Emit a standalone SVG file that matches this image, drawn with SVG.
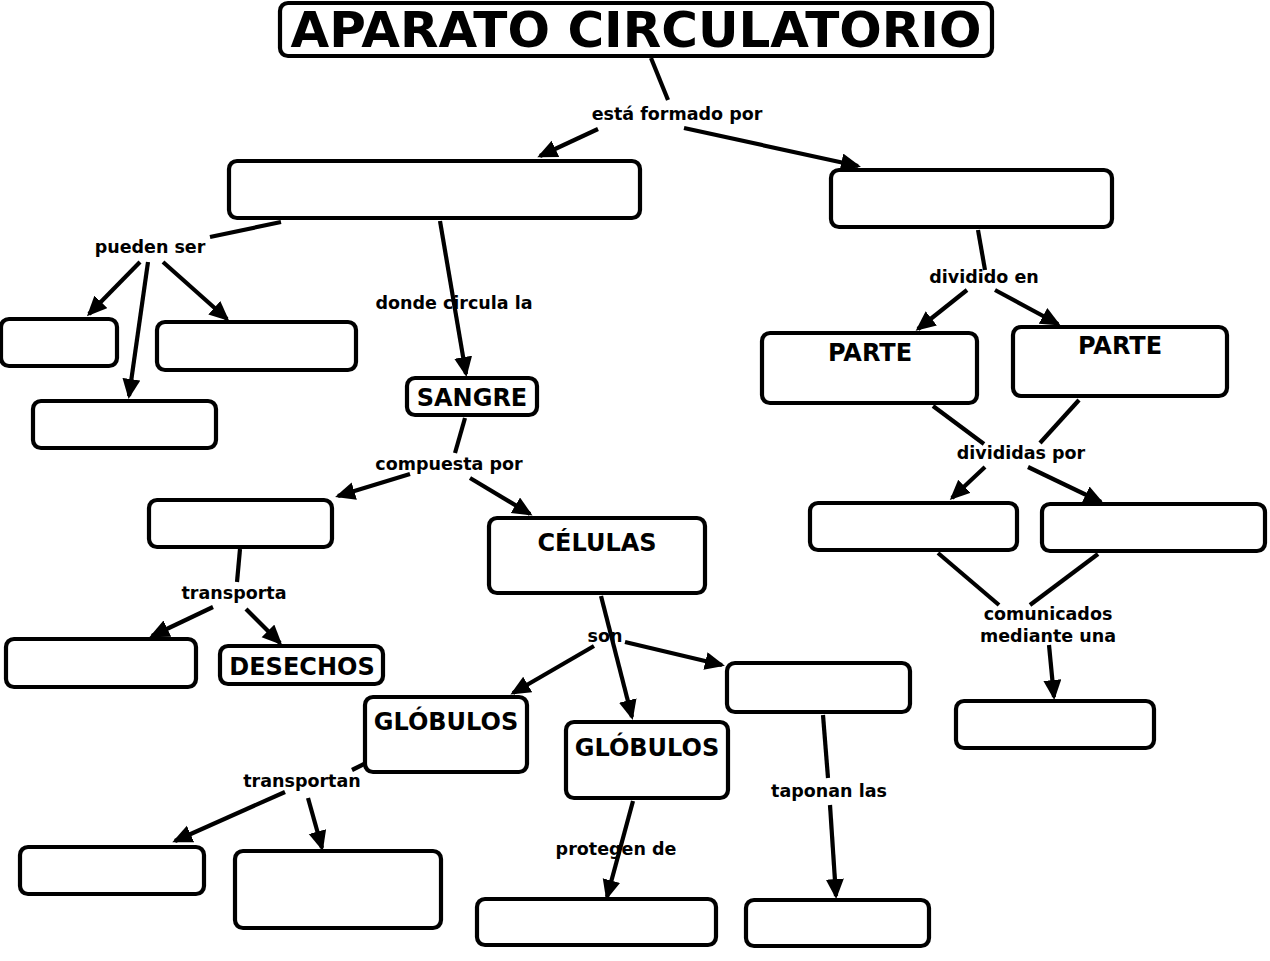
<svg xmlns="http://www.w3.org/2000/svg" width="1270" height="961" viewBox="0 0 1270 961">
<style>
.box{fill:#fff;stroke:#000;stroke-width:4.2}
.nt{font-family:"DejaVu Sans",Verdana,sans-serif;font-weight:bold;font-size:24px;text-anchor:middle;fill:#000}
.lt{font-family:"DejaVu Sans",Verdana,sans-serif;font-weight:bold;font-size:17.5px;text-anchor:middle;fill:#000}
.c{fill:none;stroke:#000;stroke-width:4.2}
.a{marker-end:url(#ah)}
</style>
<defs>
<marker id="ah" markerUnits="userSpaceOnUse" markerWidth="22" markerHeight="20" refX="17" refY="9" orient="auto" viewBox="0 0 22 20">
<path d="M0,0 L20,9 L0,18 z" fill="#000"/>
</marker>
</defs>
<rect width="1270" height="961" fill="#fff"/>
<g id="connectors">
<path class="c" d="M651,58 L668,100"/>
<path class="c a" d="M598,129 L540,156"/>
<path class="c a" d="M684,128 L858,166"/>
<path class="c" d="M281,222 L210,237"/>
<path class="c a" d="M140,262 L89,314"/>
<path class="c a" d="M148,262 L129,396"/>
<path class="c a" d="M163,262 L227,319"/>
<path class="c a" d="M440,221 L466,374"/>
<path class="c" d="M465,418 L455,453"/>
<path class="c a" d="M410,474 L338,496"/>
<path class="c a" d="M470,478 L530,514"/>
<path class="c" d="M240,549 L237,582"/>
<path class="c a" d="M213,607 L152,636"/>
<path class="c a" d="M246,609 L280,643"/>
<path class="c a" d="M601,596 L632,717"/>
<path class="c a" d="M594,646 L513,693"/>
<path class="c a" d="M625,642 L722,665"/>
<path class="c" d="M366,763 L352,770"/>
<path class="c a" d="M285,792 L175,841"/>
<path class="c a" d="M308,798 L322,848"/>
<path class="c a" d="M633,801 L607,897"/>
<path class="c" d="M823,715 L828,778"/>
<path class="c a" d="M830,805 L836,896"/>
<path class="c" d="M978,230 L985,270"/>
<path class="c a" d="M967,290 L918,329"/>
<path class="c a" d="M995,290 L1058,324"/>
<path class="c" d="M933,406 L984,444"/>
<path class="c" d="M1079,400 L1040,443"/>
<path class="c a" d="M985,467 L952,498"/>
<path class="c a" d="M1028,467 L1101,502"/>
<path class="c" d="M938,553 L999,605"/>
<path class="c" d="M1098,554 L1030,605"/>
<path class="c a" d="M1049,645 L1054,697"/>
</g>
<g id="link-labels">
<text class="lt" x="677" y="120">está formado por</text>
<text class="lt" x="150" y="253">pueden ser</text>
<text class="lt" x="454" y="309">donde circula la</text>
<text class="lt" x="449" y="470">compuesta por</text>
<text class="lt" x="234" y="599">transporta</text>
<text class="lt" x="605" y="642">son</text>
<text class="lt" x="302" y="787">transportan</text>
<text class="lt" x="616" y="855">protegen de</text>
<text class="lt" x="829" y="797">taponan las</text>
<text class="lt" x="984" y="283">dividido en</text>
<text class="lt" x="1021" y="459">divididas por</text>
<text class="lt" x="1048" y="620">comunicados</text>
<text class="lt" x="1048" y="642">mediante una</text>
</g>
<g id="title"><rect class="box" x="280" y="3" width="712" height="53" rx="8"/><text x="636" y="47" font-family="DejaVu Sans,Verdana,sans-serif" font-weight="bold" font-size="50" text-anchor="middle">APARATO CIRCULATORIO</text></g>
<g id="nodeA"><rect class="box" x="229" y="161" width="411" height="57" rx="8"/></g>
<g id="nodeB"><rect class="box" x="831" y="170" width="281" height="57" rx="8"/></g>
<g id="n1"><rect class="box" x="1" y="319" width="116" height="47" rx="8"/></g>
<g id="n2"><rect class="box" x="157" y="322" width="199" height="48" rx="8"/></g>
<g id="n3"><rect class="box" x="33" y="401" width="183" height="47" rx="8"/></g>
<g id="sangre"><rect class="box" x="407" y="378" width="130" height="37" rx="8"/><text class="nt" x="472" y="406">SANGRE</text></g>
<g id="nodeC"><rect class="box" x="149" y="500" width="183" height="47" rx="8"/></g>
<g id="celulas"><rect class="box" x="489" y="518" width="216" height="75" rx="8"/><text class="nt" x="597" y="551">CÉLULAS</text></g>
<g id="nodeD"><rect class="box" x="6" y="639" width="190" height="48" rx="8"/></g>
<g id="desechos"><rect class="box" x="220" y="646" width="163" height="38" rx="8"/><text class="nt" x="302" y="675">DESECHOS</text></g>
<g id="globulos1"><rect class="box" x="365" y="697" width="162" height="75" rx="8"/><text class="nt" x="446" y="730">GLÓBULOS</text></g>
<g id="globulos2"><rect class="box" x="566" y="722" width="162" height="76" rx="8"/><text class="nt" x="647" y="756">GLÓBULOS</text></g>
<g id="nodeE"><rect class="box" x="727" y="663" width="183" height="49" rx="8"/></g>
<g id="nodeF"><rect class="box" x="20" y="847" width="184" height="47" rx="8"/></g>
<g id="nodeG"><rect class="box" x="235" y="851" width="206" height="77" rx="8"/></g>
<g id="nodeH"><rect class="box" x="477" y="899" width="239" height="46" rx="8"/></g>
<g id="nodeI"><rect class="box" x="746" y="900" width="183" height="46" rx="8"/></g>
<g id="parte1"><rect class="box" x="762" y="333" width="215" height="70" rx="8"/><text class="nt" x="870" y="361">PARTE</text></g>
<g id="parte2"><rect class="box" x="1013" y="327" width="214" height="69" rx="8"/><text class="nt" x="1120" y="354">PARTE</text></g>
<g id="nodeJ"><rect class="box" x="810" y="503" width="207" height="47" rx="8"/></g>
<g id="nodeK"><rect class="box" x="1042" y="504" width="223" height="47" rx="8"/></g>
<g id="nodeL"><rect class="box" x="956" y="701" width="198" height="47" rx="8"/></g>
</svg>
